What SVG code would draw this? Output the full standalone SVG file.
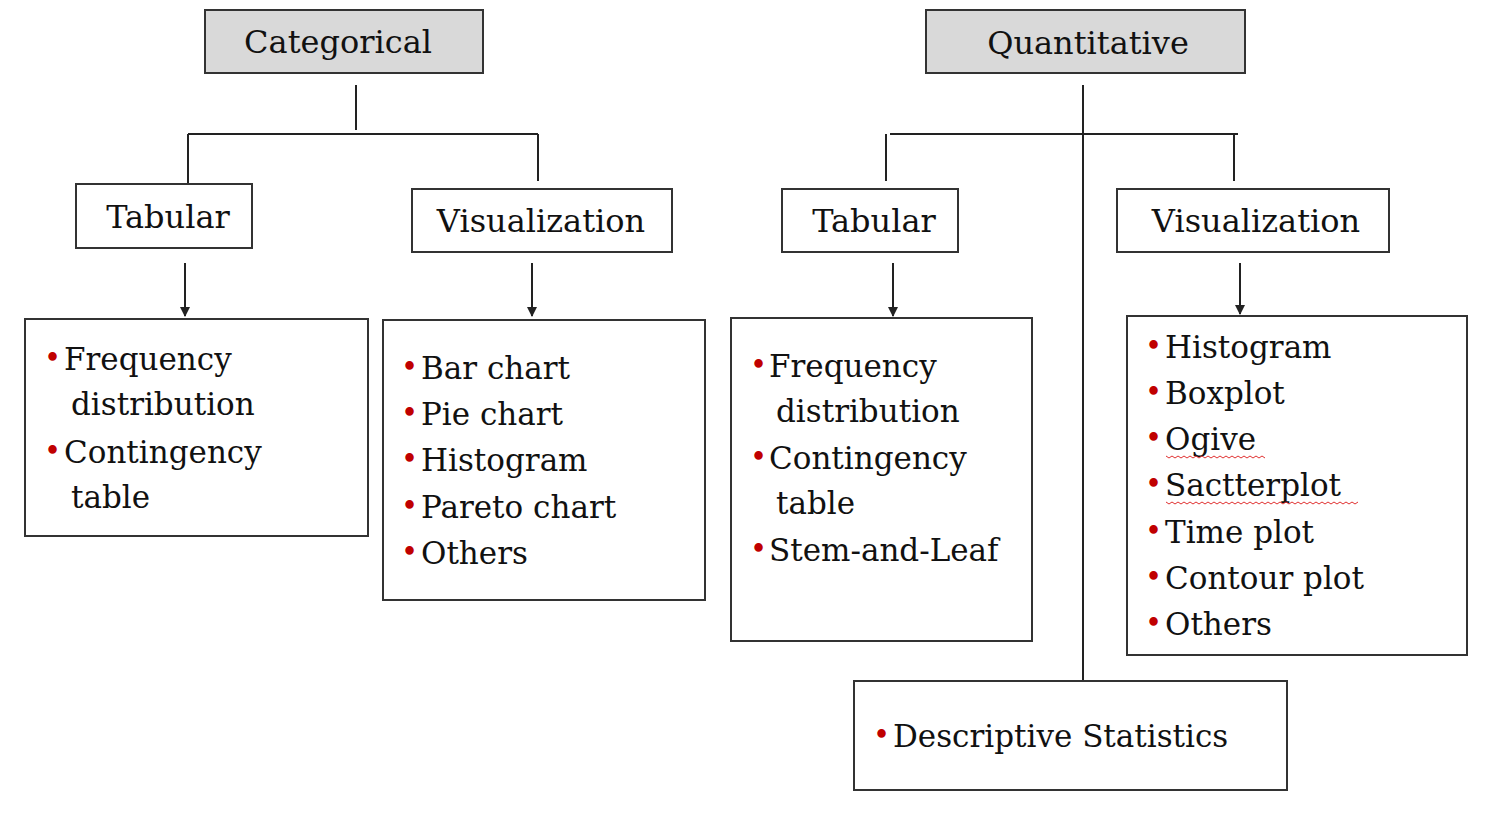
<svg xmlns="http://www.w3.org/2000/svg" width="1500" height="822" viewBox="0 0 1500 822">
<style>
.box{fill:#fff;stroke:#333;stroke-width:2}
.hdr{fill:#d9d9d9;stroke:#333;stroke-width:2}
text{font-family:"DejaVu Serif","Liberation Serif",serif;fill:#111}
.h{font-size:32px}
.t{font-size:31px}
.b{fill:#c00000;font-size:29px}
.ln{stroke:#222;stroke-width:2;fill:none}
.sq{stroke:#e03030;stroke-width:1;fill:none}
</style>
<defs><marker id="ar" markerWidth="10" markerHeight="10" refX="9" refY="5" orient="auto" markerUnits="userSpaceOnUse"><path d="M0,0 L10,5 L0,10 Z" fill="#222"/></marker></defs>
<rect width="1500" height="822" fill="#fff"/>
<g id="connectors">
<path class="ln" d="M356,85V130 M188,134H538 M188,134V183 M538,134V181"/>
<path class="ln" d="M1083,85V681 M890,134H1238 M886,134V181 M1234,134V181"/>
<path class="ln" d="M185,263V316" marker-end="url(#ar)"/>
<path class="ln" d="M532,263V316" marker-end="url(#ar)"/>
<path class="ln" d="M893,263V316" marker-end="url(#ar)"/>
<path class="ln" d="M1240,263V314" marker-end="url(#ar)"/>
</g>
<g id="categorical"><rect class="hdr" x="205" y="10" width="278" height="63"/><text class="h" x="338" y="53" text-anchor="middle">Categorical</text></g>
<g id="quantitative"><rect class="hdr" x="926" y="10" width="319" height="63"/><text class="h" x="1088" y="54" text-anchor="middle">Quantitative</text></g>
<g id="cat-tabular"><rect class="box" x="76" y="184" width="176" height="64"/><text class="h" x="168" y="228" text-anchor="middle">Tabular</text></g>
<g id="cat-vis"><rect class="box" x="412" y="189" width="260" height="63"/><text class="h" x="541" y="232" text-anchor="middle">Visualization</text></g>
<g id="q-tabular"><rect class="box" x="782" y="189" width="176" height="63"/><text class="h" x="874" y="232" text-anchor="middle">Tabular</text></g>
<g id="q-vis"><rect class="box" x="1117" y="189" width="272" height="63"/><text class="h" x="1256" y="232" text-anchor="middle">Visualization</text></g>
<g id="cat-tab-list"><rect class="box" x="25" y="319" width="343" height="217"/>
<text class="b" x="44" y="368">•</text><text class="t" x="64" y="370">Frequency</text>
<text class="t" x="71" y="415">distribution</text>
<text class="b" x="44" y="461">•</text><text class="t" x="64" y="463">Contingency</text>
<text class="t" x="71" y="508">table</text></g>
<g id="cat-vis-list"><rect class="box" x="383" y="320" width="322" height="280"/>
<text class="b" x="401" y="377">•</text><text class="t" x="421" y="379">Bar chart</text>
<text class="b" x="401" y="423">•</text><text class="t" x="421" y="425">Pie chart</text>
<text class="b" x="401" y="469">•</text><text class="t" x="421" y="471">Histogram</text>
<text class="b" x="401" y="516">•</text><text class="t" x="421" y="518">Pareto chart</text>
<text class="b" x="401" y="562">•</text><text class="t" x="421" y="564">Others</text></g>
<g id="q-tab-list"><rect class="box" x="731" y="318" width="301" height="323"/>
<text class="b" x="750" y="375">•</text><text class="t" x="769" y="377">Frequency</text>
<text class="t" x="776" y="422">distribution</text>
<text class="b" x="750" y="467">•</text><text class="t" x="769" y="469">Contingency</text>
<text class="t" x="776" y="514">table</text>
<text class="b" x="750" y="559">•</text><text class="t" x="769" y="561">Stem-and-Leaf</text></g>
<g id="q-vis-list"><rect class="box" x="1127" y="316" width="340" height="339"/>
<text class="b" x="1145" y="356">•</text><text class="t" x="1165" y="358">Histogram</text>
<text class="b" x="1145" y="402">•</text><text class="t" x="1165" y="404">Boxplot</text>
<text class="b" x="1145" y="448">•</text><text class="t" x="1165" y="450">Ogive</text>
<path class="sq" d="M1166,456 l3,2 l3,-2 l3,2 l3,-2 l3,2 l3,-2 l3,2 l3,-2 l3,2 l3,-2 l3,2 l3,-2 l3,2 l3,-2 l3,2 l3,-2 l3,2 l3,-2 l3,2 l3,-2 l3,2 l3,-2 l3,2 l3,-2 l3,2 l3,-2 l3,2 l3,-2 l3,2 l3,-2 l3,2 l3,-2 l3,2"/>
<text class="b" x="1145" y="494">•</text><text class="t" x="1165" y="496">Sactterplot</text>
<path class="sq" d="M1166,502 l3,2 l3,-2 l3,2 l3,-2 l3,2 l3,-2 l3,2 l3,-2 l3,2 l3,-2 l3,2 l3,-2 l3,2 l3,-2 l3,2 l3,-2 l3,2 l3,-2 l3,2 l3,-2 l3,2 l3,-2 l3,2 l3,-2 l3,2 l3,-2 l3,2 l3,-2 l3,2 l3,-2 l3,2 l3,-2 l3,2 l3,-2 l3,2 l3,-2 l3,2 l3,-2 l3,2 l3,-2 l3,2 l3,-2 l3,2 l3,-2 l3,2 l3,-2 l3,2 l3,-2 l3,2 l3,-2 l3,2 l3,-2 l3,2 l3,-2 l3,2 l3,-2 l3,2 l3,-2 l3,2 l3,-2 l3,2 l3,-2 l3,2 l3,-2"/>
<text class="b" x="1145" y="541">•</text><text class="t" x="1165" y="543">Time plot</text>
<text class="b" x="1145" y="587">•</text><text class="t" x="1165" y="589">Contour plot</text>
<text class="b" x="1145" y="633">•</text><text class="t" x="1165" y="635">Others</text></g>
<g id="descriptive"><rect class="box" x="854" y="681" width="433" height="109"/>
<text class="b" x="873" y="745">•</text><text class="t" x="893" y="747">Descriptive Statistics</text></g>
</svg>
